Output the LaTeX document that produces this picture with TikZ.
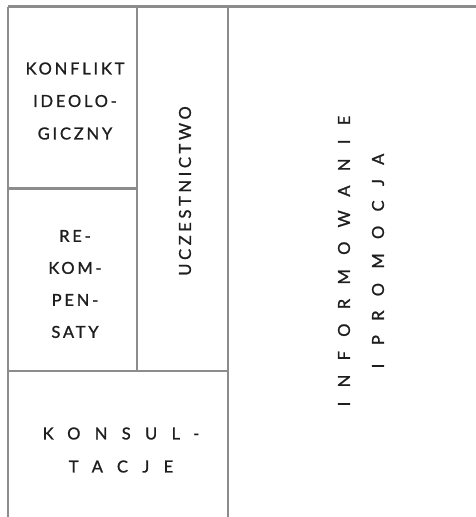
\documentclass[tikz,border=0pt]{standalone}
\usepackage{fontspec}
\setmainfont{Lato}
\newfontfamily\spA[LetterSpace=17,FakeBold=1.2]{Lato}
\newfontfamily\spB[LetterSpace=22,FakeBold=1.2]{Lato}
\newfontfamily\spC[LetterSpace=87,FakeBold=1.2]{Lato}
\definecolor{grid}{HTML}{8C8C8C}
\definecolor{ink}{HTML}{1E1E1E}
\tikzset{
  gridline/.style={draw=grid, line width=2.2pt},
  lbl/.style={text=ink, align=center, inner sep=0pt},
}
\begin{document}
\begin{tikzpicture}[x=1pt,y=-1pt]
\useasboundingbox (0,0) rectangle (476,517);
% corners
\coordinate (tl) at (8,6.5);
\coordinate (tr) at (476,6.5);
\coordinate (bl) at (8,517);
\coordinate (m1t) at (137,6.5);
\coordinate (m1b) at (137,371);
\coordinate (m2t) at (228,6.5);
\coordinate (m2b) at (228,517);
\coordinate (h1l) at (8,188.5);
\coordinate (h1r) at (137,188.5);
\coordinate (h2l) at (8,371);
\coordinate (h2r) at (228,371);
\draw[gridline] (tl) -- (tr);
\draw[gridline] (tl) -- (bl);
\draw[gridline] (m1t) -- (m1b);
\draw[gridline] (m2t) -- (m2b);
\draw[gridline] (h1l) -- (h1r);
\draw[gridline] (h2l) -- (h2r);
% labels
\node[lbl, font=\spA\fontsize{16.5}{32.5}\selectfont] (konf) at (75,101) {KONFLIKT\\IDEOLO-\\GICZNY};
\node[lbl, font=\spA\fontsize{16.5}{32}\selectfont] (rek) at (75,284) {RE-\\KOM-\\PEN-\\SATY};
\node[lbl, font=\spC\fontsize{16.5}{33}\selectfont] (kons) at (121,450) {KONSUL-\\TACJE};
\node[lbl, rotate=90, font=\spB\fontsize{16.5}{32}\selectfont] (ucz) at (185,191) {UCZESTNICTWO};
\node[lbl, rotate=90, font=\spC\fontsize{16.5}{34}\selectfont] (inf) at (361,261) {INFORMOWANIE\\I PROMOCJA};
\end{tikzpicture}
\end{document}
